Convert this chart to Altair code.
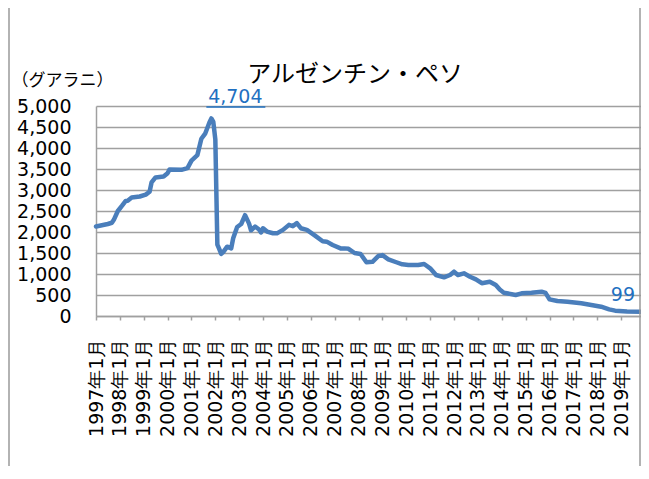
import altair as alt
import pandas as pd

# ---- data (month, guarani per peso) ----
months = [
    "1997-01", "1997-04", "1997-07", "1997-09", "1997-10", "1997-12",
    "1998-01", "1998-02", "1998-04", "1998-05", "1998-07", "1998-11",
    "1999-02", "1999-04", "1999-05", "1999-07", "1999-11",
    "2000-01", "2000-02", "2000-08", "2000-11",
    "2001-01", "2001-04", "2001-06", "2001-08", "2001-10", "2001-11", "2001-12",
    "2002-01", "2002-02", "2002-03", "2002-04", "2002-05", "2002-07", "2002-09",
    "2002-10", "2002-12",
    "2003-02", "2003-04", "2003-06", "2003-07", "2003-09", "2003-11", "2003-12",
    "2004-01", "2004-03", "2004-06", "2004-08", "2004-11",
    "2005-02", "2005-04", "2005-06", "2005-08", "2005-11",
    "2006-03", "2006-07", "2006-09", "2006-12",
    "2007-04", "2007-06", "2007-08", "2007-11",
    "2008-02", "2008-05", "2008-08", "2008-11",
    "2009-01", "2009-04", "2009-08", "2009-11",
    "2010-02", "2010-07", "2010-10",
    "2011-01", "2011-04", "2011-08", "2011-11",
    "2012-01", "2012-03", "2012-06", "2012-09", "2012-12",
    "2013-03", "2013-07", "2013-10", "2013-12",
    "2014-02", "2014-08", "2014-11",
    "2015-04", "2015-09", "2015-11",
    "2016-01", "2016-05", "2016-10",
    "2017-05", "2017-10",
    "2018-03", "2018-07", "2018-10",
    "2019-04", "2019-11",
]
values = [
    2130, 2160, 2190, 2220, 2290, 2500,
    2560, 2620, 2740, 2745, 2820, 2845,
    2890, 2960, 3180, 3300, 3320,
    3400, 3490, 3480, 3520,
    3700, 3830, 4220, 4350, 4600, 4704, 4620,
    4200, 1700, 1600, 1480, 1520, 1650, 1610,
    1850, 2120,
    2190, 2400, 2200, 2040, 2130, 2060, 1990,
    2090, 2010, 1970, 1968, 2050,
    2170, 2140, 2210, 2090, 2050,
    1920, 1780, 1770, 1690,
    1610, 1610, 1600, 1500,
    1476, 1280, 1290, 1430,
    1450, 1350, 1280, 1230,
    1214, 1214, 1238,
    1135, 976, 921, 976,
    1055, 976, 1016, 936, 873,
    780, 817, 738, 630,
    555, 500, 540,
    555, 579, 550,
    397, 357, 341,
    302, 262,
    222, 159, 127,
    110, 99,
]
tick_years = list(range(1997, 2020))
y_ticks = list(range(0, 5001, 500))
chart_title = "アルゼンチン・ペソ"
unit_label = "（グアラニ）"
peak_month, peak_value, peak_text = "2001-11", 4704, "4,704"
last_month, last_value, last_text = "2019-11", 99, "99"

LINE = "#4a7ebb"
LABEL_BLUE = "#1f70c1"
GRID = "#a0a0a0"
FRAME = "#9a9a9a"


def ms(s):
    return int(pd.Timestamp(s, tz="UTC").value // 10**6)


df = pd.DataFrame({"date": [m + "-01" for m in months], "value": values})
peak_df = pd.DataFrame({"date": [peak_month + "-01"], "value": [peak_value], "label": [peak_text]})
last_df = pd.DataFrame({"date": [last_month + "-01"], "value": [last_value], "label": [last_text]})
one = pd.DataFrame({"k": [0]})

x_scale = alt.Scale(type="utc", domain=[ms("1997-01-01"), ms("2019-11-01")])
y_scale = alt.Scale(domain=[0, 5000], nice=False, zero=True)

x_axis = alt.Axis(
    values=[ms(f"{y}-01-01") for y in tick_years],
    labelExpr="utcFormat(datum.value, '%Y') + '年' + (utcmonth(datum.value) + 1) + '月'",
    labelAngle=270, labelAlign="right", labelBaseline="middle",
    labelPadding=18, tickSize=4, tickColor=GRID, tickWidth=1.5,
    labelOverlap=False, labelFlush=False, labelBound=False,
    grid=False, labelFont="DejaVu Sans", labelFontSize=19, labelColor="black",
    domainColor=GRID, domainWidth=1.5, title=None,
)
y_axis = alt.Axis(
    values=y_ticks, labelExpr="format(datum.value, ',d')",
    labelOverlap=False, grid=True, gridColor=GRID, gridWidth=1.5,
    tickSize=0, labelPadding=25, labelFont="DejaVu Sans", labelFontSize=19,
    labelColor="black", domainColor=GRID, domainWidth=1.5,
    title=unit_label, titleAngle=0, titleAlign="left", titleBaseline="alphabetic",
    titleX=-85, titleY=-21, titleFont="Noto Sans CJK JP", titleFontSize=17,
    titleFontWeight="normal", titleColor="black",
)

X = alt.X("date:T", scale=x_scale, axis=x_axis)
Y = alt.Y("value:Q", scale=y_scale, axis=y_axis)

line = alt.Chart(df).mark_line(
    color=LINE, strokeWidth=4.5, strokeJoin="round", strokeCap="round"
).encode(x=X, y=Y)

peak_label = alt.Chart(peak_df).mark_text(
    dx=24, dy=-15, baseline="alphabetic", align="center",
    font="DejaVu Sans", fontSize=19, color=LABEL_BLUE,
).encode(x=X, y=Y, text="label:N")

peak_underline = alt.Chart(peak_df).mark_rule(
    xOffset=-5, x2Offset=54, yOffset=-11.5, color=LABEL_BLUE, strokeWidth=1.5,
).encode(x=X, x2="date:T", y=Y)

last_label = alt.Chart(last_df).mark_text(
    dx=-6, dy=-11, baseline="alphabetic", align="right",
    font="DejaVu Sans", fontSize=19, color=LABEL_BLUE,
).encode(x=X, y=Y, text="label:N")

title_mark = alt.Chart(one).mark_text(
    text=chart_title, font="Noto Sans CJK JP", fontSize=24, fontWeight="normal",
    color="black", align="center", baseline="alphabetic",
).encode(x=alt.value(259), y=alt.value(-24))

frame_left = alt.Chart(one).mark_rule(color=FRAME, strokeWidth=1.5).encode(
    x=alt.value(-87), y=alt.value(-105), y2=alt.value(370))
frame_right = alt.Chart(one).mark_rule(color=FRAME, strokeWidth=1.5).encode(
    x=alt.value(544), y=alt.value(-105), y2=alt.value(370))
frame_top = alt.Chart(one).mark_rule(color=FRAME, strokeWidth=1.5).encode(
    x=alt.value(-87), x2=alt.value(544), y=alt.value(-105))

# total SVG width kept at 633 px (= page width minus body margins) so it is not shrunk
chart = alt.layer(
    line, peak_underline, peak_label, last_label, title_mark,
    frame_left, frame_right, frame_top,
).properties(
    width=545, height=210,
    autosize=alt.AutoSizeParams(type="none"),
    padding={"left": 88, "top": 98, "right": 0, "bottom": 150},
).configure_view(stroke=None)

chart.save("out.html", embed_options={"renderer": "svg", "actions": False})
